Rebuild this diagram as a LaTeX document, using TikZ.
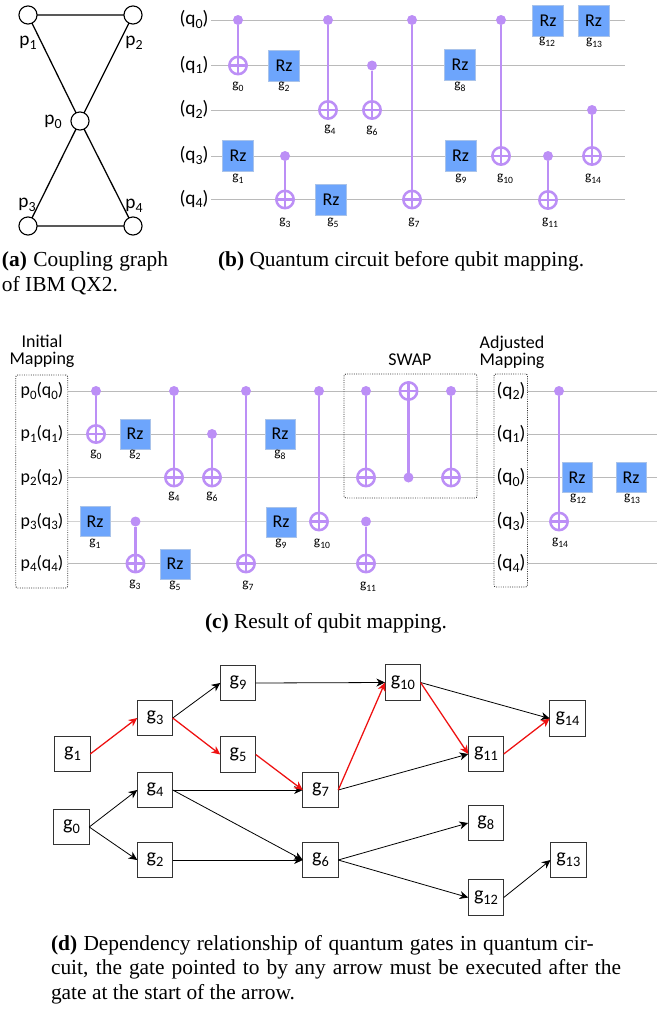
\documentclass[tikz,border=0pt]{standalone}
\usepackage{fontspec}
\setmainfont{Liberation Serif}
\newfontfamily\carl{Carlito}
\usetikzlibrary{arrows.meta}
\definecolor{qpurple}{HTML}{BC8FF6}
\definecolor{qblue}{HTML}{6DA5FC}
\definecolor{qedge}{HTML}{A9C3EA}
\definecolor{qwire}{HTML}{BABABA}
\definecolor{qwirel}{HTML}{D2D2D2}
\definecolor{qred}{HTML}{EE1111}
\newcommand\subx[1]{\raisebox{-.4ex}{\scalebox{.72}{#1}}}
\tikzset{
  x=.75pt,y=-.75pt,
  every node/.style={inner sep=0pt,outer sep=0pt},
  qubit/.style={circle,draw=black,line width=.85pt,fill=white,minimum size=13.6pt},
  coupling/.style={draw=black,line width=.95pt},
  wire/.style={draw=qwire,line width=.7pt},
  wirel/.style={draw=qwirel,line width=1.1pt},
  plab/.style={font=\carl\fontsize{14.5}{15}\selectfont},
  plabc/.style={font=\carl\fontsize{13.4}{15}\selectfont},
  glab/.style={font=\carl\fontsize{10}{10}\selectfont},
  headtxt/.style={font=\carl\fontsize{13.5}{12.75}\selectfont,align=center},
  rz/.style={rectangle,fill=qblue,draw=qedge,line width=.5pt,minimum size=23.5pt,font=\carl\fontsize{13.5}{14}\selectfont},
  rzc/.style={rz,minimum size=22.5pt},
  ctrl/.style={circle,fill=qpurple,minimum size=7.5pt},
  targ/.style={circle,draw=qpurple,line width=1.9pt,minimum size=13pt,fill=none,
    path picture={\draw[qpurple,line width=1.6pt] (path picture bounding box.north)--(path picture bounding box.south) (path picture bounding box.west)--(path picture bounding box.east);}},
  qlink/.style={draw=qpurple,line width=1.75pt},
  grp/.style={draw=black!80,densely dotted,line width=.7pt,rounded corners=1.5pt},
  captxt/.style={font=\fontsize{16.05}{17}\selectfont,anchor=west},
  gatebox/.style={rectangle,draw=black!80,line width=.8pt,fill=white,minimum size=26.6pt,font=\carl\fontsize{15}{16}\selectfont},
  dep/.style={draw=black,line width=.6pt,-{Stealth[length=6.5pt,width=6pt,inset=2pt]}},
  depr/.style={draw=qred,line width=.95pt,-{Stealth[length=6.5pt,width=6pt,inset=2pt]}},
}
% \cnot{name}{x}{control y}{target y}
\newcommand\cnot[4]{%
  \node[ctrl] (#1c) at (#2,#3) {};
  \node[targ] (#1t) at (#2,#4) {};
  \draw[qlink] (#1c) -- (#1t);
}
\begin{document}
\begin{tikzpicture}
\useasboundingbox (0,0) rectangle (657,1010);
% ---------- (a) coupling graph
\node[qubit] (p1) at (28,15) {};
\node[qubit] (p2) at (133,15) {};
\node[qubit] (p0) at (80,121) {};
\node[qubit] (p3) at (28,226) {};
\node[qubit] (p4) at (133,226) {};
\draw[coupling] (p1)--(p2) (p3)--(p4) (p1)--(p0) (p2)--(p0) (p3)--(p0) (p4)--(p0);
\node[plab] (lp1) at (28,43) {p\subx{1}};
\node[plab] (lp2) at (134,43) {p\subx{2}};
\node[plab] (lp0) at (53,122) {p\subx{0}};
\node[plab] (lp3) at (27,205) {p\subx{3}};
\node[plab] (lp4) at (134,206) {p\subx{4}};
\node[captxt] (capa1) at (2,261) {\makebox[124.5pt][s]{\textbf{(a)} Coupling graph}};
\node[captxt] (capa2) at (2,286) {of IBM QX2.};
% ---------- (b) circuit
\foreach \i/\y in {0/20,1/65.5,2/110,3/156,4/199.5}{
  \node[plab] (bq\i) at (194,\y-.5) {(q\subx{\i})};
  \coordinate (bs\i) at (211,\y);
  \coordinate (be\i) at (625,\y);
  \draw[wire] (bs\i) -- (be\i);
}
\cnot{bg0}{238}{20}{65.5}
\cnot{bg4}{328}{20}{110}
\cnot{bg6}{372}{65.5}{110}
\cnot{bg3}{285}{156}{199.5}
\cnot{bg7}{412}{20}{199.5}
\cnot{bg10}{501}{20}{156}
\cnot{bg11}{548}{156}{200}
\cnot{bg14}{592}{110}{156}
\node[rz] (brz2) at (284,65.5) {Rz};
\node[rz] (brz1) at (238,156) {Rz};
\node[rz] (brz5) at (331,200) {Rz};
\node[rz] (brz8) at (460,65) {Rz};
\node[rz] (brz9) at (460.5,156) {Rz};
\node[rz] (brz12) at (548,21) {Rz};
\node[rz] (brz13) at (593.5,21) {Rz};
\foreach \tg/\x/\y in {0/238/87,2/284/87,4/330/130,6/372/131,1/238/179,3/285/223,5/333/223,7/414/223,8/460/87,9/461/179,10/505/179,11/550/223,12/547/42,13/594/43,14/593/179}{
  \node[glab] (bl\tg) at (\x,\y) {g\subx{\tg}};
}
\node[captxt] (capb) at (218,261) {\textbf{(b)} Quantum circuit before qubit mapping.};
% ---------- (c) mapped circuit
\foreach \i/\y in {0/391,1/434,2/477.5,4/563.5}{
  \coordinate (cs\i) at (68,\y);
  \coordinate (ce\i) at (657,\y);
  \draw[wire] (cs\i) -- (ce\i);
}
\coordinate (cs3) at (68,521.5);
\coordinate (ce3) at (657,521.5);
\draw[wirel] (cs3) -- (ce3);
\node[grp,minimum width=39pt,minimum height=159.75pt] (initbox) at (41.75,481.5) {};
\node[grp,fill=white,minimum width=25.1pt,minimum height=159.75pt] (adjbox) at (510.75,480.5) {};
\node[grp,minimum width=99.75pt,minimum height=93pt] (swapbox) at (410.5,436) {};
\foreach \i/\y/\q in {0/391/2,1/434/1,2/477.5/0,3/521.5/3,4/563.5/4}{
  \node[plabc] (cp\i) at (42,\y) {p\subx{\i}(q\subx{\i})};
  \node[plab] (cq\i) at (511,\y) {(q\subx{\q})};
}
\node[headtxt] (inith) at (42,351.5) {Initial\\Mapping};
\node[headtxt] (adjh) at (512,352.5) {Adjusted\\Mapping};
\node[headtxt] (swaph) at (410,360) {SWAP};
\cnot{cg0}{96}{391}{434}
\cnot{cg4}{174}{391}{477.5}
\cnot{cg6}{212}{434}{477.5}
\cnot{cg3}{135.5}{521.5}{563.5}
\cnot{cg7}{246}{391}{563.5}
\cnot{cg10}{319}{391}{521.5}
\cnot{cg11}{366}{521.5}{563.5}
\cnot{csa}{366}{391}{477.5}
\cnot{csb}{408.5}{477.5}{391}
\cnot{csc}{451}{391}{477.5}
\cnot{cg14}{559}{391}{521.5}
\node[rzc] (crz2) at (135,434) {Rz};
\node[rzc] (crz1) at (95,521.5) {Rz};
\node[rzc] (crz5) at (175,564) {Rz};
\node[rzc] (crz8) at (280,434) {Rz};
\node[rzc] (crz9) at (281,522) {Rz};
\node[rzc] (crz12) at (577,477.5) {Rz};
\node[rzc] (crz13) at (631,477.5) {Rz};
\foreach \tg/\x/\y in {0/96/455,2/135/455,4/174/497,6/212/497,1/95/544,3/135/585,5/175/586,7/248/586,8/280/455,9/281/544,10/322/544,11/368/587,12/578/499,13/632/499,14/560/543}{
  \node[glab] (cl\tg) at (\x,\y) {g\subx{\tg}};
}
\node[captxt] (capc) at (205,623) {\textbf{(c)} Result of qubit mapping.};
% ---------- (d) dependency graph
\foreach \tg/\x/\y in {1/72.5/754,3/155/718,9/238/683,5/238/754.5,4/155/790,0/71.5/827,2/155/860,7/320.5/790,6/320.5/860,10/402.8/682.5,11/486/754,14/567.5/718.5,8/485.8/823,12/486/897.5,13/568.3/860}{
  \node[gatebox] (g\tg) at (\x,\y) {g\subx{\tg}};
}
\foreach \a/\b in {3/9,4/7,4/6,0/4,0/2,2/6,9/10,7/11,10/14,6/8,6/12,12/13}{
  \draw[dep] (g\a.east) -- (g\b.west);
}
\foreach \a/\b in {1/3,3/5,5/7,7/10,10/11,11/14}{
  \draw[depr] (g\a.east) -- (g\b.west);
}
\node[captxt] (capd1) at (51,945) {\makebox[407pt][s]{\textbf{(d)} Dependency relationship of quantum gates in quantum cir-}};
\node[captxt] (capd2) at (51,969.5) {\makebox[427.5pt][s]{cuit, the gate pointed to by any arrow must be executed after the}};
\node[captxt] (capd3) at (51,994.5) {gate at the start of the arrow.};
\end{tikzpicture}
\end{document}
